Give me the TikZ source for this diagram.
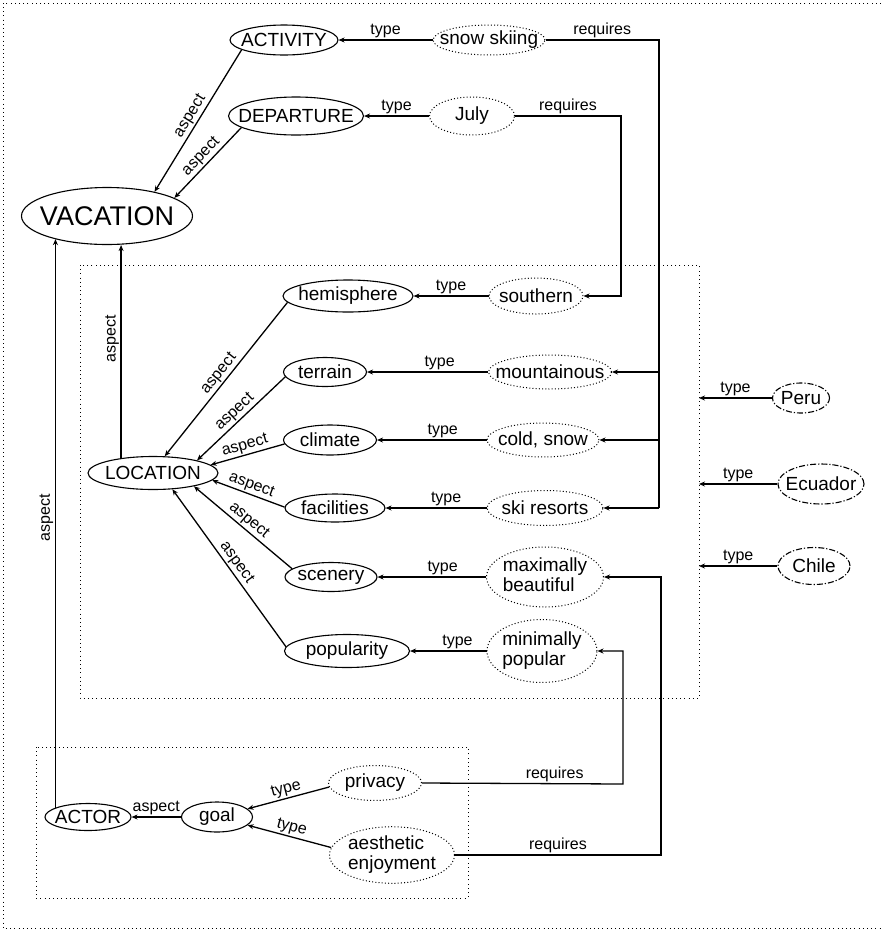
\documentclass[tikz,border=0pt]{standalone}
\usepackage{fontspec}
\setmainfont{Liberation Sans}
\usetikzlibrary{arrows.meta,shapes.geometric}
\newcommand{\zw}[1]{\makebox[0pt]{#1}}
\newcommand{\twol}[2]{\makebox[0pt]{\begin{tabular}{@{}l@{}}#1\\#2\end{tabular}}}
\begin{document}
\begin{tikzpicture}[x=1pt,y=-1pt,
 every node/.style={font=\fontsize{19}{20}\selectfont},
 cnode/.style={ellipse, draw, line width=1.1pt, inner sep=0pt},
 vnode/.style={ellipse, draw, line width=1pt, dash pattern=on 1pt off 2.2pt, inner sep=0pt},
 xnode/.style={ellipse, draw, line width=1.1pt, dash pattern=on 6pt off 2pt on 1.2pt off 2pt, inner sep=0pt},
 lbl/.style={font=\fontsize{16}{17}\selectfont, inner sep=1.5pt},
 ln/.style={line width=1.3pt},
 arr/.style={line width=1.3pt, -{Stealth[length=6pt,width=5pt]}},
 framebox/.style={line width=0.9pt, dash pattern=on 1pt off 3.2pt}]

\useasboundingbox (0,0) rectangle (881,930);

% frames
\draw[framebox] (881,3) -- (3,3) -- (3,928) -- (881,928);
\coordinate (lbNW) at (80,265);
\coordinate (lbSE) at (699,698);
\draw[framebox] (lbNW) rectangle (lbSE);
\coordinate (abNW) at (36,747);
\coordinate (abSE) at (468,898);
\draw[framebox] (abNW) rectangle (abSE);

% nodes
\node[cnode, minimum width=108, minimum height=30] (act) at (284,40) {\zw{ACTIVITY}};
\node[cnode, minimum width=135, minimum height=38] (dep) at (296,116) {\zw{DEPARTURE}};
\node[cnode, minimum width=171, minimum height=57, font=\fontsize{27}{29}\selectfont] (vac) at (107,216) {\zw{VACATION}};
\node[vnode, minimum width=112, minimum height=30] (ski) at (489,40) {\zw{snow skiing}};
\node[vnode, minimum width=85, minimum height=38] (jul) at (472,116) {\zw{July}};

\node[cnode, minimum width=130, minimum height=32] (hem) at (348,296) {\zw{hemisphere}};
\node[vnode, minimum width=94, minimum height=36] (sou) at (536,296) {\zw{southern}};
\node[cnode, minimum width=83, minimum height=29] (ter) at (325,372) {\zw{terrain}};
\node[vnode, minimum width=123, minimum height=34] (mou) at (550,372) {\zw{mountainous}};
\node[cnode, minimum width=93, minimum height=30] (cli) at (330,440) {\zw{climate}};
\node[vnode, minimum width=112, minimum height=34] (col) at (543,440) {\zw{cold, snow}};
\node[cnode, minimum width=100, minimum height=28] (fac) at (335,508) {\zw{facilities}};
\node[vnode, minimum width=116, minimum height=35] (res) at (545,508) {\zw{ski resorts}};
\node[cnode, minimum width=92, minimum height=29] (sce) at (331,577) {\zw{scenery}};
\node[vnode, minimum width=117, minimum height=60] (bea) at (545,577) {\twol{maximally}{beautiful}};
\node[cnode, minimum width=125, minimum height=33] (pop) at (347,651) {\zw{popularity}};
\node[vnode, minimum width=110, minimum height=63] (mpo) at (542,651) {\twol{minimally}{popular}};
\node[cnode, minimum width=130, minimum height=33] (loc) at (153,473) {\zw{LOCATION}};

\node[xnode, minimum width=57, minimum height=30] (peru) at (801,398) {\zw{Peru}};
\node[xnode, minimum width=86, minimum height=40] (ecu) at (821,484) {\zw{Ecuador}};
\node[xnode, minimum width=72, minimum height=37] (chi) at (814,566) {\zw{Chile}};

\node[cnode, minimum width=86, minimum height=27] (actor) at (88,817) {\zw{ACTOR}};
\node[cnode, minimum width=71, minimum height=30] (goal) at (217,817) {\zw{goal}};
\node[vnode, minimum width=93, minimum height=35] (pri) at (375,783) {\zw{privacy}};
\node[vnode, minimum width=125, minimum height=55] (aes) at (392,855) {\twol{aesthetic}{enjoyment}};

% top part
\draw[arr] (act.193) -- node[lbl, sloped, above] {aspect} (vac.27);
\draw[arr] (dep.192) -- node[lbl, sloped, above] {aspect} (vac.15);
\draw[arr] (ski.west) -- node[lbl, above] {type} (act.east);
\draw[arr] (jul.west) -- node[lbl, above] {type} (dep.east);

% requires from snow skiing
\coordinate (rA) at (659,40);
\draw[ln] (ski.east) -- node[lbl, above] {requires} (rA) -- (rA |- res.east);
\draw[arr] (rA |- mou.east) -- (mou.east);
\draw[arr] (rA |- col.east) -- (col.east);
\draw[arr] (rA |- res.east) -- (res.east);

% requires from July
\coordinate (rB) at (621,116);
\draw[arr] (jul.east) -- node[lbl, above] {requires} (rB) -- (rB |- sou.east) -- (sou.east);

% type edges in location box
\draw[arr] (sou.west) -- node[lbl, above] {type} (hem.east);
\draw[arr] (mou.west) -- node[lbl, above, pos=0.4] {type} (ter.east);
\draw[arr] (col.west) -- node[lbl, above, pos=0.4] {type} (cli.east);
\draw[arr] (res.west) -- node[lbl, above, pos=0.4] {type} (fac.east);
\draw[arr] (bea.west) -- node[lbl, above, pos=0.4] {type} (sce.east);
\draw[arr] (mpo.west) -- node[lbl, above, pos=0.38] {type} (pop.east);

% aspect edges to LOCATION
\draw[arr] (hem.186) -- node[lbl, sloped, above] {aspect} (loc.55);
\draw[arr] (ter.187) -- node[lbl, sloped, above] {aspect} (loc.16);
\draw[arr] (cli.185) -- node[lbl, sloped, above] {aspect} (loc.8);
\draw[arr] (fac.179) -- node[lbl, sloped, above] {aspect} (loc.353);
\draw[arr] (sce.168) -- node[lbl, sloped, above] {aspect} (loc.342);
\draw[arr] (pop.176) -- node[lbl, sloped, above] {aspect} (loc.320);

% LOCATION and ACTOR to VACATION
\draw[arr] (loc.155) -- node[lbl, sloped, above, pos=0.56] {aspect} (loc.155 |- vac.south);
\draw[arr] (actor.164) -- node[lbl, sloped, above, pos=0.51] {aspect} (actor.164 |- vac.204);

% countries
\draw[arr] (peru.west) -- node[lbl, above] {type} (peru.west -| lbSE);
\draw[arr] (ecu.west) -- node[lbl, above] {type} (ecu.west -| lbSE);
\draw[arr] (chi.west) -- node[lbl, above] {type} (chi.west -| lbSE);

% actor part
\draw[arr] (goal.west) -- node[lbl, above] {aspect} (actor.east);
\draw[arr] (pri.185) -- node[lbl, sloped, above] {type} (goal.15);
\draw[arr] (aes.173) -- node[lbl, sloped, above] {type} (goal.345);

\coordinate (rC) at (623,784);
\draw[arr] (pri.east) -- node[lbl, above, pos=0.66] {requires} (rC) -- (rC |- mpo.east) -- (mpo.east);
\coordinate (rD) at (661,855);
\draw[arr] (aes.east) -- node[lbl, above] {requires} (rD) -- (rD |- bea.east) -- (bea.east);
\end{tikzpicture}
\end{document}
